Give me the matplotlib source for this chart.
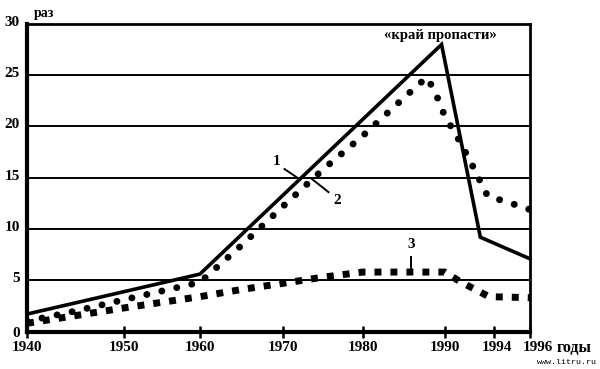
import numpy as np
import matplotlib
matplotlib.use('Agg')
import matplotlib.pyplot as plt
from matplotlib.transforms import ScaledTranslation

# ---- data ----
tick_years = [1940, 1950, 1960, 1970, 1980, 1990, 1994, 1996]
tick_labels = ['1940', '1950', '1960', '1970', '1980', '1990', '1994', '1996']
y_ticks = [0, 5, 10, 15, 20, 25, 30]

s1_years = [1940, 1960, 1989.6, 1992.9, 1996]
s1_vals = [1.7, 5.6, 28.0, 9.2, 7.1]

s2_years = [1940, 1945, 1950, 1955, 1960, 1965, 1970, 1975, 1980, 1985,
            1987.8, 1988.8, 1990, 1991, 1992, 1993.5, 1994.8, 1996]
s2_vals = [1.0, 2.0, 3.1, 3.95, 4.8, 8.4, 12.2, 15.8, 19.1, 22.8,
           24.8, 23.4, 21.0, 19.0, 16.8, 13.2, 12.6, 11.9]

s3_years = [1940, 1950, 1960, 1965, 1970, 1975, 1980, 1990, 1991.2, 1993.6, 1996]
s3_vals = [0.8, 2.3, 3.4, 4.1, 4.7, 5.3, 5.8, 5.8, 4.9, 3.4, 3.3]

# uneven spacing of the year axis in the original drawing
axis_spacing = [0, 97, 173, 256, 336, 418, 467, 503]

_yrs = np.array(tick_years, float)
_pos = np.array(axis_spacing, float)


def fwd(x):
    x = np.asarray(x, float)
    out = np.interp(x, _yrs, _pos)
    s0 = (_pos[1] - _pos[0]) / (_yrs[1] - _yrs[0])
    s1 = (_pos[-1] - _pos[-2]) / (_yrs[-1] - _yrs[-2])
    out = np.where(x < _yrs[0], _pos[0] + (x - _yrs[0]) * s0, out)
    out = np.where(x > _yrs[-1], _pos[-1] + (x - _yrs[-1]) * s1, out)
    return out


def inv(p):
    p = np.asarray(p, float)
    out = np.interp(p, _pos, _yrs)
    s0 = (_yrs[1] - _yrs[0]) / (_pos[1] - _pos[0])
    s1 = (_yrs[-1] - _yrs[-2]) / (_pos[-1] - _pos[-2])
    out = np.where(p < _pos[0], _yrs[0] + (p - _pos[0]) * s0, out)
    out = np.where(p > _pos[-1], _yrs[-1] + (p - _pos[-1]) * s1, out)
    return out


SERIF = 'Liberation Serif'

fig = plt.figure(figsize=(6, 3.69), dpi=100)
ax = fig.add_axes([0.045, 0.1016, 0.838, 0.8334])
ax.set_xscale('function', functions=(fwd, inv))
ax.set_xlim(1940, 1996)
ax.set_ylim(0, 30)

# grid lines
for v in y_ticks[1:-1]:
    ax.axhline(v, color='black', lw=1.4, zorder=1)

# series
ax.plot(s1_years, s1_vals, color='black', lw=2.6, solid_joinstyle='miter',
        zorder=3, clip_on=False)
ax.plot(s2_years, s2_vals, color='black', lw=5, linestyle=(0, (0.01, 2.2)),
        dash_capstyle='round', zorder=3)
ax.plot(s3_years, s3_vals, color='black', lw=5, linestyle=(0, (1.0, 1.3)),
        dash_capstyle='butt', zorder=3)

# spines
for side, w in [('left', 3.0), ('bottom', 3.0), ('right', 2.0), ('top', 2.0)]:
    ax.spines[side].set_linewidth(w)
    ax.spines[side].set_color('black')

ax.set_xticks(tick_years)
ax.set_xticklabels(tick_labels, fontfamily=SERIF, fontweight='bold', fontsize=11)
ax.set_yticks(y_ticks)
ax.set_yticklabels([str(v) for v in y_ticks], fontfamily=SERIF,
                   fontweight='bold', fontsize=11)
ax.tick_params(axis='x', direction='inout', length=8, width=1.8, pad=3)
ax.tick_params(axis='y', length=0, pad=5)

# small offsets of labels as in the drawing
up = ScaledTranslation(0, 3 / 100, fig.dpi_scale_trans)
for lab in ax.get_yticklabels()[1:]:
    lab.set_transform(lab.get_transform() + up)
xl = ax.get_xticklabels()
xl[-1].set_transform(xl[-1].get_transform() + ScaledTranslation(8 / 100, 0, fig.dpi_scale_trans))
xl[-2].set_transform(xl[-2].get_transform() + ScaledTranslation(3 / 100, 0, fig.dpi_scale_trans))

# annotations
tk = dict(fontfamily=SERIF, fontweight='bold', color='black')
ax.text(1941.8, 31.0, 'раз', fontsize=10, ha='center', va='center', clip_on=False, **tk)
ax.text(1989.4, 28.9, '«край пропасти»', fontsize=10.5, ha='center', va='center', **tk)
ax.text(1969.2, 16.6, '1', fontsize=11, ha='center', va='center', **tk)
ax.plot([1970.2, 1972.0], [15.85, 14.9], color='black', lw=1.4)
ax.text(1976.8, 12.8, '2', fontsize=11, ha='center', va='center', **tk)
ax.plot([1973.6, 1975.7], [14.9, 13.6], color='black', lw=1.4)
ax.text(1985.9, 8.5, '3', fontsize=11, ha='center', va='center', **tk)
ax.plot([1985.9, 1985.9], [7.3, 5.7], color='black', lw=1.4)

fig.text(574 / 600, 1 - 348 / 369, 'годы', fontsize=11.5, ha='center', va='center', **tk)
fig.text(567 / 600, 1 - 362 / 369, 'www.litru.ru', fontsize=6,
         fontfamily='Liberation Mono', ha='center', va='center', color='black')

fig.savefig('out.png', dpi=100)
